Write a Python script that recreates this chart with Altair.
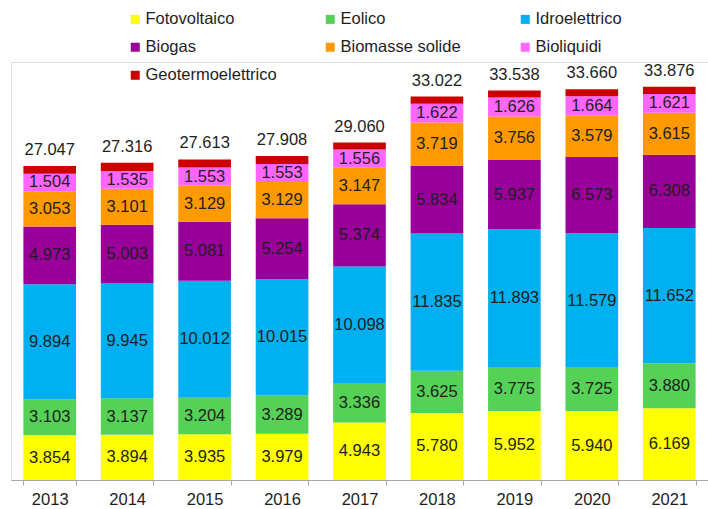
import altair as alt
import pandas as pd

years = ["2013", "2014", "2015", "2016", "2017", "2018", "2019", "2020", "2021"]
series = ["Fotovoltaico", "Eolico", "Idroelettrico", "Biogas",
          "Biomasse solide", "Bioliquidi", "Geotermoelettrico"]
colors = ["#FFFF00", "#55D155", "#00B0F0", "#990099", "#FF9900", "#FF66FF", "#CC0000"]

fotovoltaico = [3854, 3894, 3935, 3979, 4943, 5780, 5952, 5940, 6169]
eolico = [3103, 3137, 3204, 3289, 3336, 3625, 3775, 3725, 3880]
idroelettrico = [9894, 9945, 10012, 10015, 10098, 11835, 11893, 11579, 11652]
biogas = [4973, 5003, 5081, 5254, 5374, 5834, 5937, 6573, 6308]
biomasse = [3053, 3101, 3129, 3129, 3147, 3719, 3756, 3579, 3615]
bioliquidi = [1504, 1535, 1553, 1553, 1556, 1622, 1626, 1664, 1621]
geotermo = [666, 701, 699, 689, 606, 607, 599, 600, 631]
totals = [27047, 27316, 27613, 27908, 29060, 33022, 33538, 33660, 33876]

values = [fotovoltaico, eolico, idroelettrico, biogas, biomasse, bioliquidi, geotermo]
rows = []
for si, (name, vals) in enumerate(zip(series, values)):
    for y, v in zip(years, vals):
        rows.append({"year": y, "series": name, "order": si, "value": v})
df = pd.DataFrame(rows)
df_tot = pd.DataFrame({"year": years, "total": totals})

FONT = "Liberation Sans"
FS = 16.5
TXT = "#1e1e1e"

xenc = alt.X("year:N", sort=years, title=None,
             scale=alt.Scale(paddingInner=0.32, paddingOuter=0.16),
             axis=alt.Axis(labelAngle=0, labelFont=FONT, labelFontSize=FS, labelColor=TXT,
                           domainColor="#a6a6a6", tickColor="#a6a6a6", tickSize=5,
                           tickBand="extent", labelPadding=6, grid=False))
yscale = alt.Scale(domain=[0, 36000], nice=False)

base = alt.Chart(df).transform_stack(
    stack="value", groupby=["year"], as_=["y0", "y1"],
    sort=[alt.SortField("order", "ascending")]
)

bars = base.mark_bar().encode(
    x=xenc,
    y=alt.Y("y0:Q", scale=yscale, axis=None),
    y2="y1:Q",
    color=alt.Color("series:N", sort=series,
                    scale=alt.Scale(domain=series, range=colors),
                    legend=alt.Legend(orient="none", direction="horizontal",
                                      legendX=116, legendY=-51, columns=3,
                                      gridAlign="all", columnPadding=45, rowPadding=11,
                                      symbolType="square", symbolSize=81, symbolStrokeWidth=0,
                                      labelFont=FONT, labelFontSize=FS, labelColor=TXT,
                                      labelOffset=2, labelLimit=200, title=None, padding=0)),
)

labels = base.transform_filter(
    alt.datum.series != "Geotermoelettrico"
).transform_calculate(
    mid="(datum.y0 + datum.y1) / 2",
    lab="replace(format(datum.value, ','), ',', '.')"
).mark_text(font=FONT, fontSize=FS, color=TXT, baseline="middle").encode(
    x=alt.X("year:N", sort=years),
    y=alt.Y("mid:Q", scale=yscale),
    text="lab:N",
)

tot = alt.Chart(df_tot).transform_calculate(
    lab="replace(format(datum.total, ','), ',', '.')"
).mark_text(font=FONT, fontSize=FS, color=TXT, baseline="bottom", dy=-8).encode(
    x=alt.X("year:N", sort=years),
    y=alt.Y("total:Q", scale=yscale),
    text="lab:N",
)

chart = alt.layer(bars, labels, tot).properties(
    width=697, height=418,
    autosize=alt.AutoSizeParams(type="none"),
    padding={"left": 11, "top": 62, "right": 0, "bottom": 29},
).configure_view(stroke=None).configure(background="white")

chart.save("out.html", embed_options={"renderer": "svg", "actions": False})
